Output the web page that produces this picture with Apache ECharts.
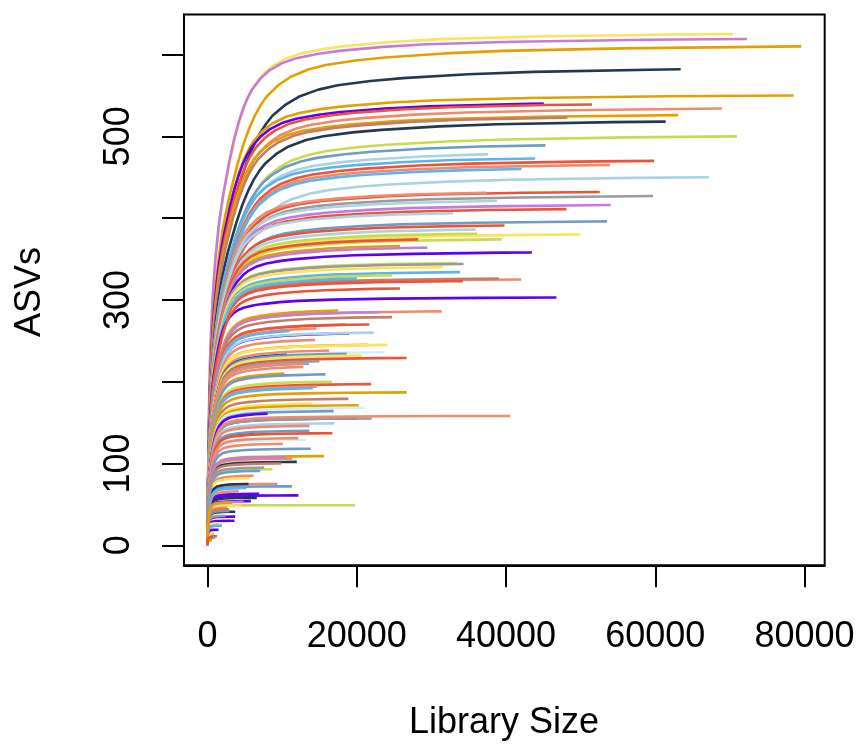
<!DOCTYPE html>
<html>
<head>
<meta charset="utf-8">
<script src="https://cdn.jsdelivr.net/npm/echarts@6/dist/echarts.min.js"></script>
<style>
  html, body { margin: 0; padding: 0; background: #fff; }
  #chart { width: 859px; height: 744px; }
</style>
</head>
<body>
<div id="chart"></div>
<script>
// tick positions
var xTicks = [0, 20000, 40000, 60000, 80000];
var yTicks = [0, 100, 200, 300, 400, 500, 600];
// R left out the labels that would crowd each other
var yTickLabels = [0, 100, 300, 500];

// shared rarefaction shape:
// reads per final ASV  ->  fraction of final ASVs reached
var profileT = [0, 0.1, 0.2, 0.3, 0.4, 0.5, 0.65, 0.8, 1, 1.25, 1.5, 1.75, 2, 2.5, 3, 3.5, 4, 5, 6, 7, 8, 9, 10,
                12, 14, 17, 20, 25, 30, 40, 50, 70, 100, 150, 200];
var profileFrac = [0, 0.095, 0.18, 0.245, 0.295, 0.335, 0.385, 0.415, 0.455, 0.497, 0.53, 0.558, 0.582, 0.625, 0.657, 0.686, 0.71, 0.757, 0.797, 0.83, 0.857, 0.878, 0.895,
                   0.918, 0.934, 0.949, 0.958, 0.967, 0.973, 0.981, 0.986, 0.991, 0.995, 0.998, 1.0];

// end point of every curve (library size, ASVs)
var libSize = [
  70400, 72280, 79550, 63400, 78530, 45070, 51530, 68930, 63090, 48240,
  61390, 70940, 45290, 37610, 43900, 59830, 53940, 42080, 67190, 52560,
  37400, 59700, 38780, 54030, 48100, 32930, 53540, 39800, 35920, 49880,
  36140, 39400, 28240, 25800, 29450, 43460, 33460, 34310, 31500, 33820,
  42030, 39040, 34220, 24720, 20000, 46760, 25800, 31370, 17540, 23030,
  24720, 18560, 21680, 14590, 10980, 18970, 22270, 14420, 21470, 24100,
  16290, 23700, 10630, 18650, 20660, 26690, 15000, 13610, 13080, 12850,
  10310, 15800, 16650, 21910, 14640, 14110, 26690, 18870, 13970, 20260,
  21020, 16910, 8080, 20000, 22000, 40520, 17000, 13650, 6290, 13650,
  16730, 13170, 12180, 10090, 13840, 15620, 11380, 11960, 10400, 9860,
  8700, 7050, 6160, 5620, 9370, 11300, 5490, 12180, 6920, 6610,
  5810, 19770, 4820, 4600, 3710, 2600, 3710, 3610, 1930, 1480,
  1480, 1930, 1260, 1030, 3000, 2400, 4200, 900, 600, 5200,
  7600, 2900, 3300, 700
];
var asvs = [
  625, 619, 610, 582, 550, 540, 539, 534, 526, 523,
  518, 500, 489, 478, 473, 470, 465, 460, 450, 432,
  431, 427, 421, 416, 411, 406, 396, 391, 386, 380,
  381, 374, 374, 366, 364, 358, 345, 344, 340, 334,
  325, 326, 323, 330, 326, 303, 314, 286, 287, 285,
  279, 270, 270, 265, 262, 259, 260, 251, 245, 245,
  238, 236, 233, 234, 232, 229, 225, 222, 222, 218,
  210, 209, 200, 197, 194, 192, 187, 179, 173, 171,
  168, 164, 161, 155, 155, 158, 149, 146, 136, 140,
  137, 129, 131, 124, 118, 109, 106, 102, 108, 100,
  93, 91, 85, 82, 75, 72, 75, 61, 63, 58,
  54, 49, 53, 48, 41, 46, 35, 30, 27, 24,
  19, 24, 11, 9, 42, 36, 66, 14, 6, 70,
  95, 44, 52, 10
];
// how slowly each curve bends (1 = same as the shared profile)
var curveSpread = [
  1.0, 0.95, 1.3, 1.5, 1.12, 1.1, 1.2, 1.3, 1.2, 1.3,
  1.5, 1.6, 1.5, 1.5, 1.4, 1.5, 1.5, 1.5, 1.8, 1.4,
  1.3, 1.4, 1.3, 1.3, 1.3, 1.2, 1.3, 1.2, 1.2, 1.2,
  1.2, 1.2, 1.1, 1.1, 1.1, 1.1, 1.0, 1.0, 1.0, 1.0,
  1.0, 1.0, 1.0, 1.0, 1.0, 0.8
];

var palette = {
  yellow: '#fbe35d', orchid: '#c57bd9', orange: '#e69f00', navy: '#213a52',
  purple: '#5f00ee', tomato: '#ee5337', salmon: '#ef8a6c', brown: '#c27f68',
  steel: '#6d9cc8', lightblue: '#a9d3e2', sky: '#5ab5ec', lime: '#c9db4d',
  gray: '#9a9a9a', cyan: '#d2f1f7'
};
var curveColor = [
  'yellow', 'orchid', 'orange', 'navy', 'orange', 'purple', 'tomato', 'salmon', 'orange', 'brown',
  'navy', 'lime', 'steel', 'lightblue', 'sky', 'tomato', 'salmon', 'sky', 'lightblue', 'tomato',
  'salmon', 'gray', 'lightblue', 'orchid', 'tomato', 'lightblue', 'steel', 'tomato', 'lightblue', 'yellow',
  'lime', 'lime', 'tomato', 'orange', 'orchid', 'purple', 'lime', 'gray', 'yellow', 'sky',
  'salmon', 'brown', 'tomato', 'lime', 'sky', 'purple', 'tomato', 'salmon', 'orange', 'orchid',
  'brown', 'gray', 'tomato', 'salmon', 'sky', 'purple', 'lightblue', 'salmon', 'orange', 'yellow',
  'salmon', 'cyan', 'navy', 'steel', 'yellow', 'tomato', 'gray', 'sky', 'salmon', 'salmon',
  'orange', 'steel', 'lime', 'tomato', 'salmon', 'sky', 'orange', 'brown', 'yellow', 'orange',
  'cyan', 'steel', 'purple', 'purple', 'gray', 'salmon', 'lightblue', 'salmon', 'navy', 'steel',
  'tomato', 'cyan', 'salmon', 'salmon', 'steel', 'orange', 'salmon', 'navy', 'orchid', 'brown',
  'lime', 'steel', 'salmon', 'yellow', 'salmon', 'steel', 'navy', 'purple', 'purple', 'navy',
  'purple', 'lime', 'orchid', 'yellow', 'navy', 'salmon', 'purple', 'purple', 'yellow', 'orchid',
  'purple', 'sky', 'tomato', 'sky', 'steel', 'gray', 'salmon', 'lime', 'orange', 'sky',
  'gray', 'brown', 'orange', 'tomato'
];

var FONT = '"Liberation Sans", Arial, Helvetica, sans-serif';

function fracAt(t) {
  if (t >= profileT[profileT.length - 1]) return 1;
  for (var j = 1; j < profileT.length; j++) {
    if (t <= profileT[j]) {
      var a = profileT[j - 1], b = profileT[j];
      return profileFrac[j - 1] + (profileFrac[j] - profileFrac[j - 1]) * (t - a) / (b - a);
    }
  }
  return 1;
}

var series = libSize.map(function(N, i) {
  var S = asvs[i];
  var k = curveSpread[i] || 1;
  var fEnd = fracAt(N / (k * S));
  var pts = [[0, 0]];
  for (var j = 1; j < profileT.length; j++) {
    var n = profileT[j] * k * S;
    if (n >= N) break;
    pts.push([n, S * profileFrac[j] / fEnd]);
  }
  pts.push([N, S]);
  return {
    type: 'line',
    data: pts,
    symbol: 'none',
    smooth: false,
    silent: true,
    lineStyle: { color: palette[curveColor[i]], width: 2.6, join: 'round' }
  };
});

function plainNumber(v) { return String(v); }

var chart = echarts.init(document.getElementById('chart'), null, { renderer: 'canvas' });
chart.setOption({
  animation: false,
  backgroundColor: '#fff',
  grid: {
    left: 184, right: 34.3, top: 14.5, bottom: 178.7,
    show: true, borderColor: '#000', borderWidth: 2,
    containLabel: false, outerBoundsMode: 'none'
  },
  xAxis: {
    type: 'value',
    min: -3150, max: 82700,
    axisLine: { show: true, onZero: false, lineStyle: { color: '#000', width: 2 } },
    axisTick: { show: true, inside: false, length: 22, customValues: xTicks, lineStyle: { color: '#000', width: 2 } },
    axisLabel: { show: true, customValues: xTicks, formatter: plainNumber, margin: 54, fontSize: 36, color: '#000', fontFamily: FONT },
    splitLine: { show: false }
  },
  yAxis: {
    type: 'value',
    min: -24.5, max: 649,
    axisLine: { show: true, onZero: false, lineStyle: { color: '#000', width: 2 } },
    axisTick: { show: true, inside: false, length: 22, customValues: yTicks, lineStyle: { color: '#000', width: 2 } },
    axisLabel: { show: false },
    splitLine: { show: false }
  },
  series: series
});

// y tick labels read bottom-to-top, placed through the y scale
var texts = yTickLabels.map(function(v) {
  return {
    type: 'text', x: 119, y: chart.convertToPixel({ yAxisIndex: 0 }, v), rotation: Math.PI / 2,
    style: { text: String(v), font: '36px ' + FONT, fill: '#000', textAlign: 'center', textVerticalAlign: 'middle' }
  };
});
texts.push({ type: 'text', x: 504, y: 723, style: { text: 'Library Size', font: '36px ' + FONT, fill: '#000', textAlign: 'center', textVerticalAlign: 'middle' } });
texts.push({ type: 'text', x: 30, y: 292, rotation: Math.PI / 2, style: { text: 'ASVs', font: '36px ' + FONT, fill: '#000', textAlign: 'center', textVerticalAlign: 'middle' } });
chart.setOption({ graphic: texts });
</script>
</body>
</html>
